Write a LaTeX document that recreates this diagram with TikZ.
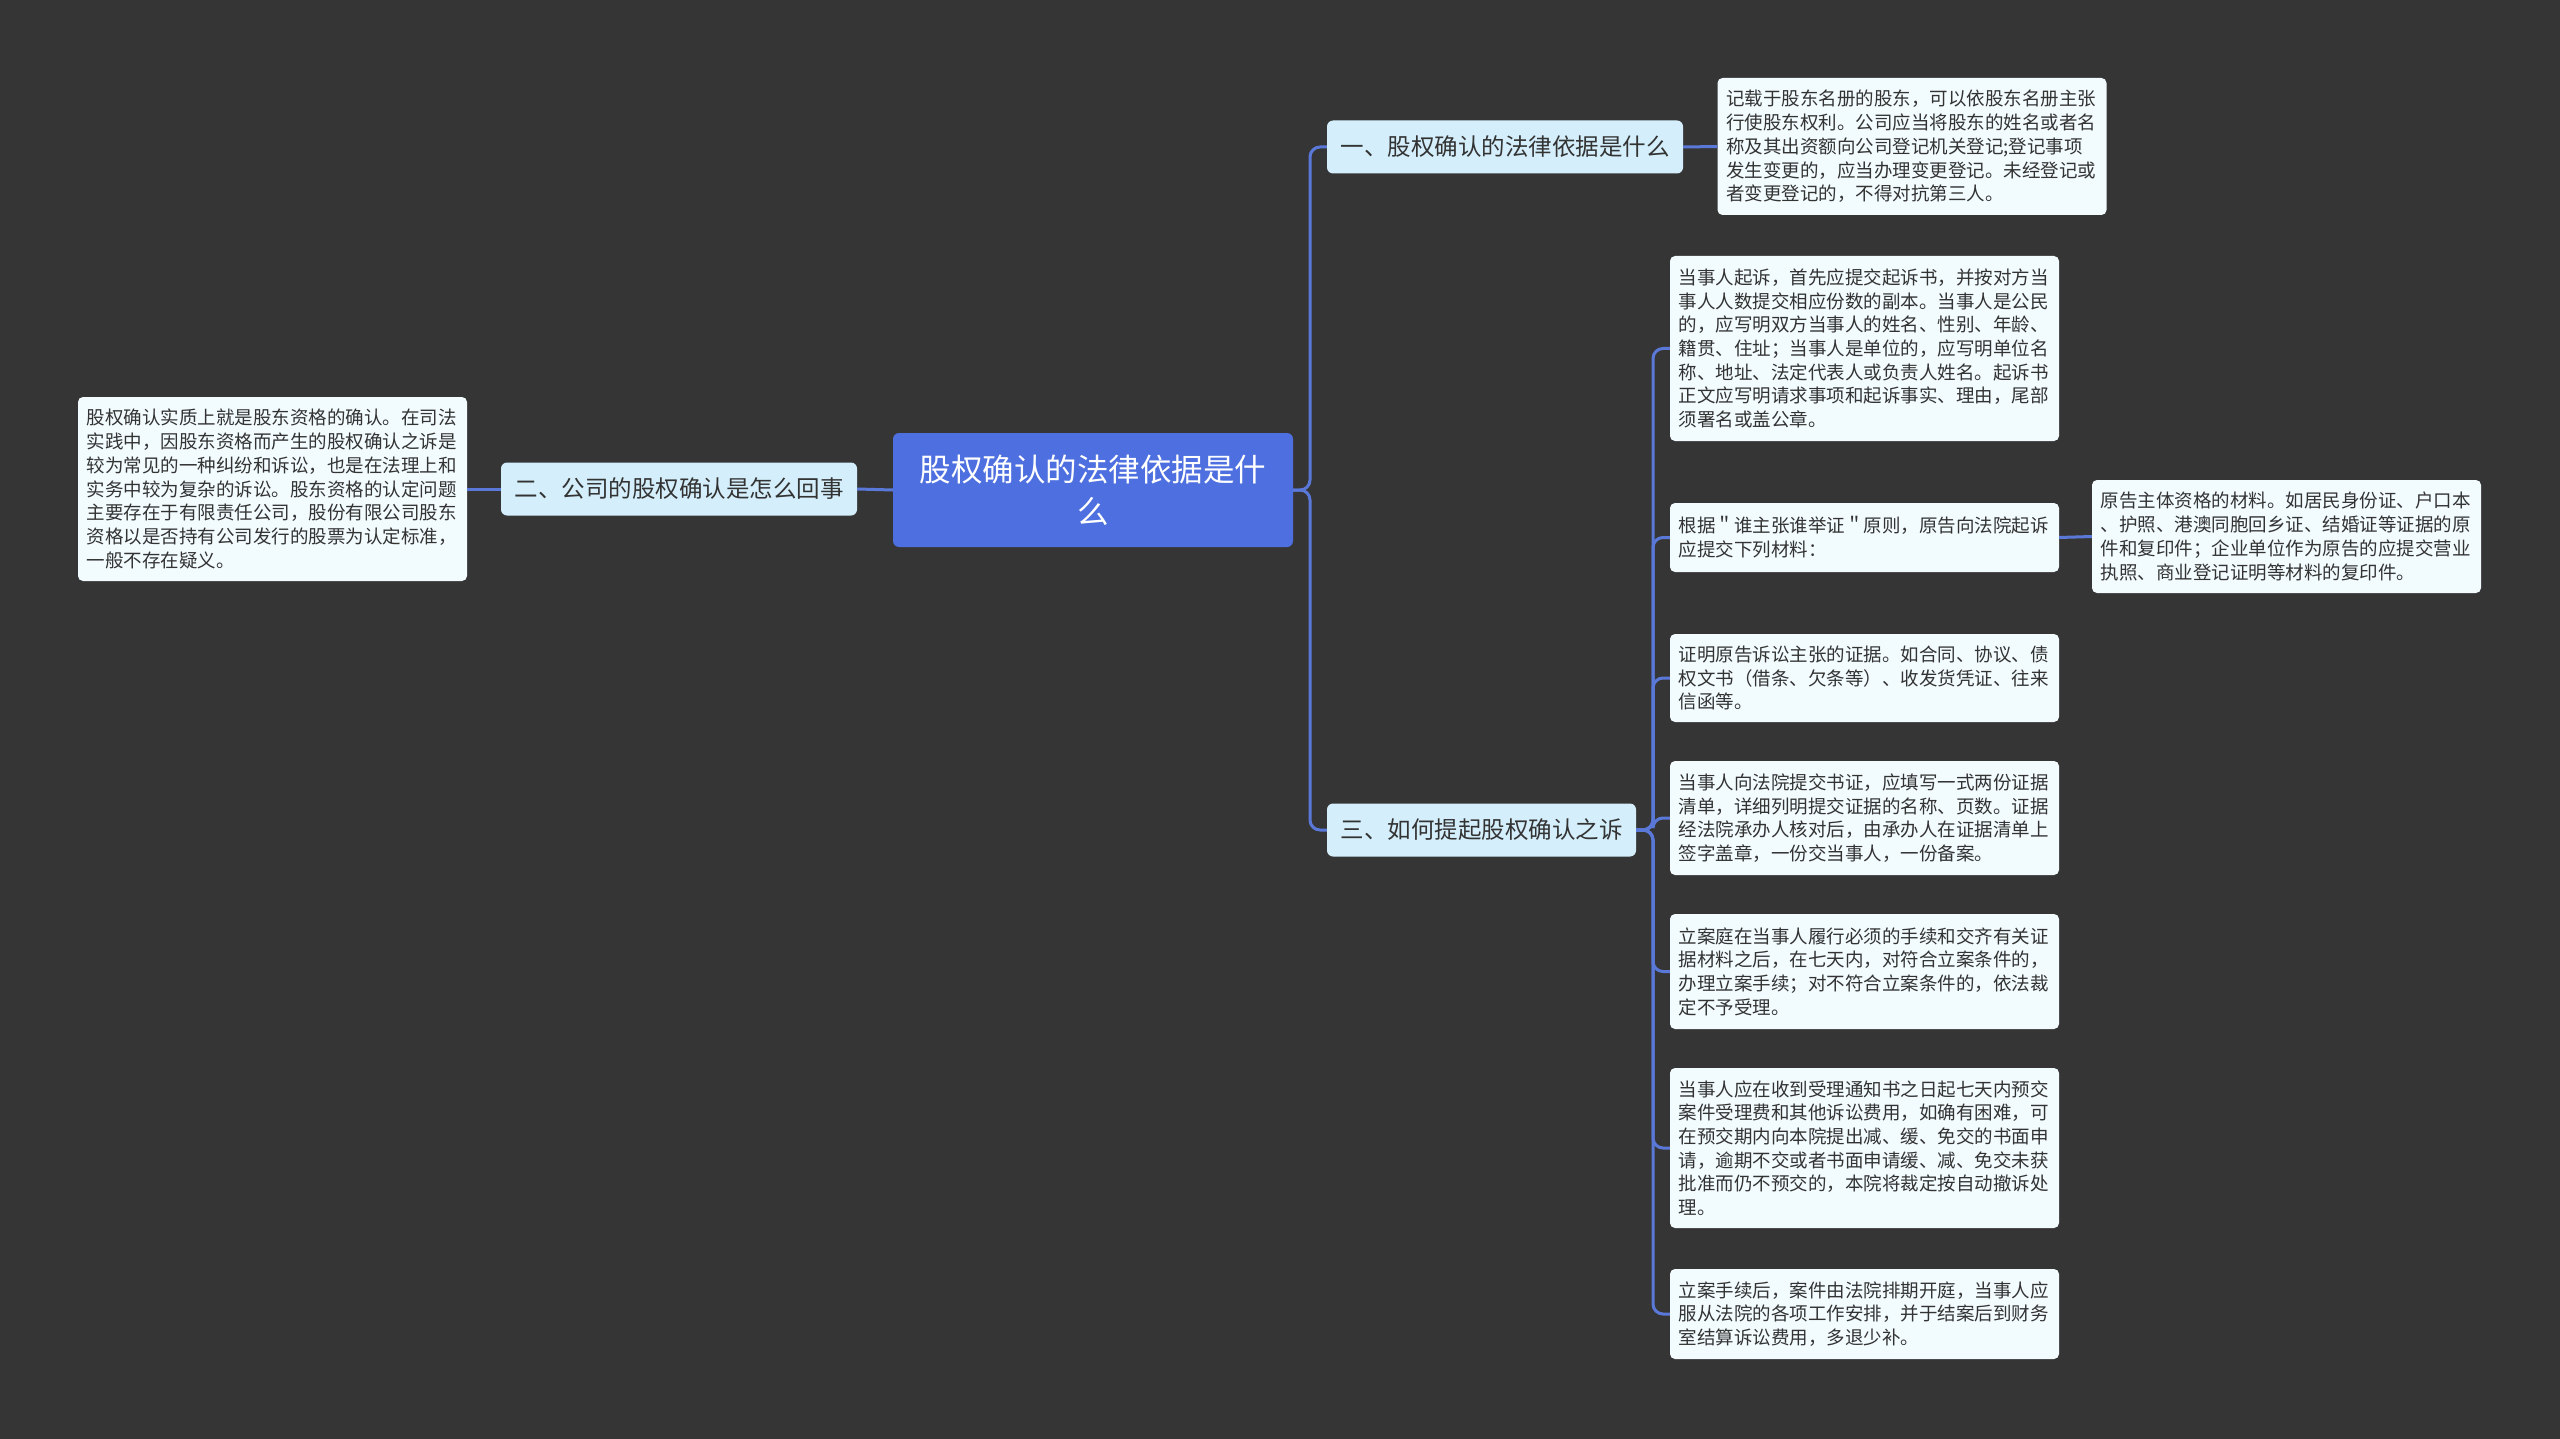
\documentclass[tikz,border=0pt]{standalone}
\usepackage{fontspec}
\setmainfont{Noto Sans CJK SC}
\usetikzlibrary{calc}
\definecolor{bgc}{RGB}{54,53,54}
\definecolor{rootc}{RGB}{77,111,223}
\definecolor{lvc}{RGB}{212,239,251}
\definecolor{leafc}{RGB}{242,251,254}
\definecolor{linec}{RGB}{90,120,216}
\definecolor{txtc}{RGB}{51,51,51}
\tikzset{
  rootbox/.style={fill=rootc, rounded corners=6pt, text=white, align=center,
    font=\fontsize{31.5pt}{42pt}\selectfont, minimum width=400pt, minimum height=114pt, inner sep=0pt},
  lvbox/.style={fill=lvc, rounded corners=6pt, text=txtc, align=center,
    font=\fontsize{23.5pt}{28pt}\selectfont, minimum height=53pt, inner xsep=9pt, inner ysep=0pt},
  leafbox/.style={fill=leafc, rounded corners=5pt, text=txtc, align=left,
    font=\fontsize{18.5pt}{23.7pt}\selectfont, text width=372pt, inner xsep=8.5pt, inner ysep=0pt},
  conn/.style={draw=linec, line width=3pt, rounded corners=10pt},
}
\begin{document}
\begin{tikzpicture}[x=1pt,y=-1pt]
\fill[bgc] (0,0) rectangle (2560,1439);
\useasboundingbox (0,0) rectangle (2560,1439);

\node[rootbox] (root) at (1093,490) {股权确认的法律依据是什\\么};

\node[lvbox, minimum width=356pt] (n1) at (1505,147) {一、股权确认的法律依据是什么};
\node[lvbox, minimum width=356pt] (n2) at (679,489) {二、公司的股权确认是怎么回事};
\node[lvbox, minimum width=309pt] (n3) at (1481.5,830) {三、如何提起股权确认之诉};

\node[leafbox, minimum height=137pt] (l1) at (1912,146.5) {记载于股东名册的股东，可以依股东名册主张\\行使股东权利。公司应当将股东的姓名或者名\\称及其出资额向公司登记机关登记;登记事项\\发生变更的，应当办理变更登记。未经登记或\\者变更登记的，不得对抗第三人。};

\node[leafbox, minimum height=184pt] (l2) at (272.5,489) {股权确认实质上就是股东资格的确认。在司法\\实践中，因股东资格而产生的股权确认之诉是\\较为常见的一种纠纷和诉讼，也是在法理上和\\实务中较为复杂的诉讼。股东资格的认定问题\\主要存在于有限责任公司，股份有限公司股东\\资格以是否持有公司发行的股票为认定标准，\\一般不存在疑义。};

\node[leafbox, minimum height=185pt] (a) at (1864.5,348.5) {当事人起诉，首先应提交起诉书，并按对方当\\事人人数提交相应份数的副本。当事人是公民\\的，应写明双方当事人的姓名、性别、年龄、\\籍贯、住址；当事人是单位的，应写明单位名\\称、地址、法定代表人或负责人姓名。起诉书\\正文应写明请求事项和起诉事实、理由，尾部\\须署名或盖公章。};

\node[leafbox, minimum height=69pt] (b) at (1864.5,537.5) {根据＂谁主张谁举证＂原则，原告向法院起诉\\应提交下列材料：};

\node[leafbox, minimum height=113pt] (bc) at (2286.5,536.5) {原告主体资格的材料。如居民身份证、户口本\\、护照、港澳同胞回乡证、结婚证等证据的原\\件和复印件；企业单位作为原告的应提交营业\\执照、商业登记证明等材料的复印件。};

\node[leafbox, minimum height=88pt] (c) at (1864.5,678) {证明原告诉讼主张的证据。如合同、协议、债\\权文书（借条、欠条等）、收发货凭证、往来\\信函等。};

\node[leafbox, minimum height=114pt] (d) at (1864.5,818) {当事人向法院提交书证，应填写一式两份证据\\清单，详细列明提交证据的名称、页数。证据\\经法院承办人核对后，由承办人在证据清单上\\签字盖章，一份交当事人，一份备案。};

\node[leafbox, minimum height=115pt] (e) at (1864.5,971.5) {立案庭在当事人履行必须的手续和交齐有关证\\据材料之后，在七天内，对符合立案条件的，\\办理立案手续；对不符合立案条件的，依法裁\\定不予受理。};

\node[leafbox, minimum height=160pt] (f) at (1864.5,1148) {当事人应在收到受理通知书之日起七天内预交\\案件受理费和其他诉讼费用，如确有困难，可\\在预交期内向本院提出减、缓、免交的书面申\\请，逾期不交或者书面申请缓、减、免交未获\\批准而仍不预交的，本院将裁定按自动撤诉处\\理。};

\node[leafbox, minimum height=90pt] (g) at (1864.5,1314) {立案手续后，案件由法院排期开庭，当事人应\\服从法院的各项工作安排，并于结案后到财务\\室结算诉讼费用，多退少补。};

% connectors
\coordinate (tr) at ($(root.east)!.5!(root.east -| n1.west)$);
\draw[conn] (root.east) -- (tr) |- (n1.west);
\draw[conn] (root.east) -- (tr) |- (n3.west);
\draw[conn] (root.west) -- (n2.east);
\draw[conn] (n2.west) -- (l2.east);
\draw[conn] (n1.east) -- (l1.west);
\draw[conn] (b.east) -- (bc.west);
\coordinate (tr3) at ($(n3.east)!.5!(n3.east -| a.west)$);
\foreach \k in {a,b,c,d,e,f,g}{
  \draw[conn] (n3.east) -- (tr3) |- (\k.west);
}
\end{tikzpicture}
\end{document}
